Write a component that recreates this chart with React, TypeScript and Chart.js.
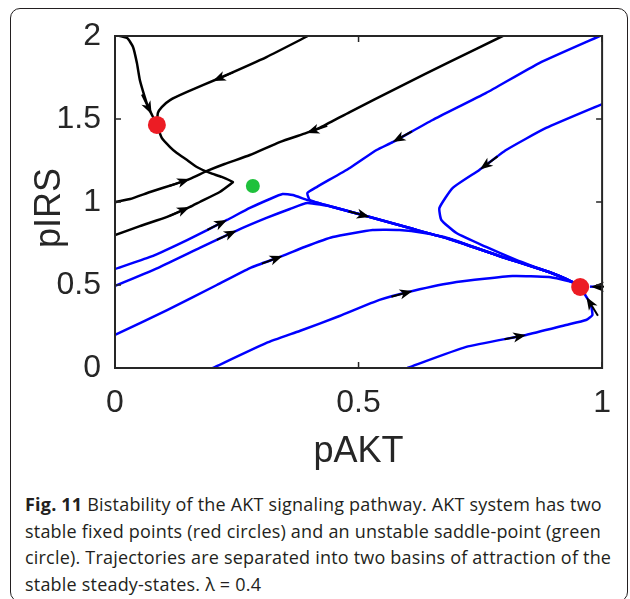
import React, { useEffect, useRef } from 'react';
import { Chart, registerables } from 'chart.js';

Chart.register(...registerables);

type P = [number, number];

// ---- axis ticks ----
const xTicks = [0, 0.5, 1];
const yTicks = [0, 0.5, 1, 1.5, 2];

// ---- fixed points ----
const stablePoints: P[] = [[0.086, 1.464], [0.955, 0.488]];
const saddlePoints: P[] = [[0.283, 1.096]];

// ---- black trajectories (basin of upper stable point) ----
const trajA: P[] = [[0, 2.006], [0.025, 1.988], [0.037, 1.934], [0.045, 1.837], [0.051, 1.735], [0.061, 1.633], [0.068, 1.572], [0.076, 1.524], [0.086, 1.464]];
const trajB: P[] = [[0.4, 2.006], [0.311, 1.873], [0.215, 1.747], [0.148, 1.663], [0.113, 1.614], [0.096, 1.572], [0.088, 1.536], [0.086, 1.464]];
const trajC: P[] = [[0, 1.0], [0.031, 1.018], [0.072, 1.06], [0.123, 1.108], [0.154, 1.139], [0.189, 1.187], [0.225, 1.229], [0.277, 1.283], [0.338, 1.361], [0.393, 1.416], [0.42, 1.446], [0.482, 1.542], [0.584, 1.693], [0.686, 1.843], [0.8, 2.006]];
const trajD: P[] = [[0, 0.8], [0.051, 0.855], [0.107, 0.91], [0.154, 0.97], [0.174, 1.0], [0.215, 1.06], [0.24, 1.114], [0.242, 1.12], [0.219, 1.151], [0.195, 1.175], [0.168, 1.211], [0.148, 1.253], [0.127, 1.295], [0.113, 1.331], [0.096, 1.386], [0.086, 1.464]];

// ---- blue trajectories (basin of lower stable point) ----
const mainBranch: P[] = [[0.447, 0.97], [0.523, 0.91], [0.605, 0.843], [0.686, 0.777], [0.789, 0.675], [0.891, 0.578], [0.939, 0.518], [0.955, 0.488]];
const trajE: P[] = [[0, 0.596], [0.072, 0.669], [0.148, 0.771], [0.23, 0.892], [0.277, 0.964], [0.318, 1.018], [0.344, 1.048], [0.365, 1.042], [0.395, 1.012], ...mainBranch];
const trajF: P[] = [[1, 2.006], [0.871, 1.837], [0.762, 1.657], [0.652, 1.494], [0.57, 1.361], [0.537, 1.313], [0.482, 1.205], [0.414, 1.09], [0.395, 1.054], [0.4, 1.012], ...mainBranch];
const trajG: P[] = [[0, 0.494], [0.092, 0.608], [0.174, 0.723], [0.25, 0.828], [0.311, 0.904], [0.359, 0.958], [0.395, 0.994], ...mainBranch];
const trajH: P[] = [[0, 0.199], [0.107, 0.349], [0.209, 0.5], [0.277, 0.602], [0.344, 0.675], [0.389, 0.729], [0.447, 0.789], [0.529, 0.831], [0.584, 0.831], [0.635, 0.813], [0.686, 0.78], [0.789, 0.675], [0.891, 0.578], [0.939, 0.518], [0.955, 0.488]];
const trajI: P[] = [[1, 1.59], [0.885, 1.446], [0.803, 1.313], [0.748, 1.193], [0.693, 1.084], [0.666, 0.964], [0.67, 0.892], [0.701, 0.813], [0.762, 0.729], [0.82, 0.655], [0.86, 0.61], [0.891, 0.578], [0.939, 0.518], [0.955, 0.488]];
const trajK: P[] = [[0.201, 0], [0.311, 0.151], [0.379, 0.223], [0.461, 0.313], [0.543, 0.41], [0.611, 0.464], [0.701, 0.518], [0.816, 0.554], [0.891, 0.548], [0.939, 0.518], [0.955, 0.488]];
const trajL: P[] = [[0.6, 0], [0.721, 0.127], [0.844, 0.199], [0.926, 0.259], [0.967, 0.289], [0.98, 0.319], [0.977, 0.38], [0.969, 0.422], [0.96, 0.465]];
const trajM: P[] = [[1, 0.49], [0.975, 0.49]];

const blackTrajectories: [string, P[]][] = [['A', trajA], ['B', trajB], ['C', trajC], ['D', trajD]];
const blueTrajectories: [string, P[]][] = [['E', trajE], ['F', trajF], ['G', trajG], ['H', trajH], ['I', trajI], ['K', trajK], ['L', trajL], ['M', trajM]];

// ---- direction arrows: curve, position on curve, +1 = along data order ----
const arrowCurves = ['A', 'B', 'C', 'C', 'D', 'E', 'G', 'H', 'E', 'F', 'I', 'K', 'L', 'L', 'M'];
const arrowAt: P[] = [[0.076, 1.53], [0.2, 1.735], [0.154, 1.139], [0.393, 1.416], [0.154, 0.967], [0.23, 0.892], [0.25, 0.828], [0.344, 0.675], [0.523, 0.91], [0.57, 1.361], [0.748, 1.2], [0.611, 0.464], [0.844, 0.199], [0.969, 0.43], [0.977, 0.49]];
const arrowDir = [1, 1, 1, -1, 1, 1, 1, 1, 1, 1, 1, 1, 1, 1, 1];

const FONT = '"Liberation Sans", Arial, Helvetica, sans-serif';
const AXIS_COLOR = '#262626';
const N_POINT_SETS = 2;

const arrowPlugin = {
  id: 'arrowHeads',
  afterDatasetDraw(chart: any, args: any) {
    if (args.index !== N_POINT_SETS) return;
    const ctx: CanvasRenderingContext2D = chart.ctx;
    const xs = chart.scales.x, ys = chart.scales.y;
    const area = chart.chartArea;
    ctx.save();
    ctx.beginPath();
    ctx.rect(area.left - 2, area.top - 2, area.right - area.left + 4, area.bottom - area.top + 4);
    ctx.clip();
    arrowCurves.forEach((label, k) => {
      const dsIndex = chart.data.datasets.findIndex((d: any) => d.label === label);
      if (dsIndex < 0) return;
      const pts = chart.getDatasetMeta(dsIndex).data;
      const px = xs.getPixelForValue(arrowAt[k][0]);
      const py = ys.getPixelForValue(arrowAt[k][1]);
      let best = { d: Infinity, x: px, y: py, ang: 0 };
      for (let i = 0; i < pts.length - 1; i++) {
        const x1 = pts[i].x, y1 = pts[i].y, x2 = pts[i + 1].x, y2 = pts[i + 1].y;
        const dx = x2 - x1, dy = y2 - y1;
        const l2 = dx * dx + dy * dy;
        if (!l2) continue;
        let t = ((px - x1) * dx + (py - y1) * dy) / l2;
        t = Math.max(0, Math.min(1, t));
        const qx = x1 + t * dx, qy = y1 + t * dy;
        const d = (qx - px) ** 2 + (qy - py) ** 2;
        if (d < best.d) best = { d, x: qx, y: qy, ang: Math.atan2(dy, dx) };
      }
      const ang = arrowDir[k] > 0 ? best.ang : best.ang + Math.PI;
      ctx.save();
      ctx.translate(best.x, best.y);
      ctx.rotate(ang);
      ctx.strokeStyle = '#000';
      ctx.lineWidth = 2;
      ctx.beginPath();
      ctx.moveTo(-22, 0);
      ctx.lineTo(-6, 0);
      ctx.stroke();
      ctx.fillStyle = '#000';
      ctx.beginPath();
      ctx.moveTo(0, 0);
      ctx.lineTo(-13, -5);
      ctx.lineTo(-9.5, 0);
      ctx.lineTo(-13, 5);
      ctx.closePath();
      ctx.fill();
      ctx.restore();
    });
    ctx.restore();
  },
  afterDatasetsDraw(chart: any) {
    const ctx: CanvasRenderingContext2D = chart.ctx;
    const { left, right, top, bottom } = chart.chartArea;
    const xs = chart.scales.x, ys = chart.scales.y;
    ctx.save();
    ctx.strokeStyle = AXIS_COLOR;
    ctx.lineWidth = 2;
    ctx.strokeRect(left, top, right - left, bottom - top);
    ctx.lineWidth = 1.5;
    ctx.beginPath();
    xTicks.forEach((v) => {
      const x = xs.getPixelForValue(v);
      ctx.moveTo(x, bottom); ctx.lineTo(x, bottom - 6);
      ctx.moveTo(x, top); ctx.lineTo(x, top + 6);
    });
    yTicks.forEach((v) => {
      const y = ys.getPixelForValue(v);
      ctx.moveTo(left, y); ctx.lineTo(left + 6, y);
      ctx.moveTo(right, y); ctx.lineTo(right - 6, y);
    });
    ctx.stroke();
    ctx.restore();
  },
};

const toXY = (pts: P[]) => pts.map(([x, y]) => ({ x, y }));

export default function App() {
  const canvasRef = useRef<HTMLCanvasElement | null>(null);

  useEffect(() => {
    const canvas = canvasRef.current;
    if (!canvas) return;
    const lineDs = (label: string, pts: P[], color: string) => ({
      label,
      data: toXY(pts),
      showLine: true,
      borderColor: color,
      backgroundColor: color,
      borderWidth: 2.5,
      pointRadius: 0,
      tension: 0.15,
      fill: false,
    });
    const chart = new Chart(canvas, {
      type: 'scatter',
      data: {
        datasets: [
          { label: 'stable', data: toXY(stablePoints), pointRadius: 9, pointBackgroundColor: '#ec1c24', pointBorderWidth: 0, showLine: false } as any,
          { label: 'saddle', data: toXY(saddlePoints), pointRadius: 7, pointBackgroundColor: '#1fc13c', pointBorderWidth: 0, showLine: false } as any,
          ...blackTrajectories.map(([l, p]) => lineDs(l, p, '#000000')),
          ...blueTrajectories.map(([l, p]) => lineDs(l, p, '#0000ff')),
        ],
      },
      options: {
        responsive: false,
        animation: false,
        events: [],
        layout: { padding: { top: 36, right: 27, left: 0, bottom: 0 } },
        plugins: { legend: { display: false }, tooltip: { enabled: false } },
        scales: {
          x: {
            type: 'linear',
            min: 0,
            max: 1,
            afterBuildTicks: (s: any) => { s.ticks = xTicks.map((value) => ({ value })); },
            afterFit: (s: any) => { s.height = 112; },
            grid: { display: false, drawTicks: false },
            border: { display: false },
            ticks: { font: { family: FONT, size: 32, lineHeight: 1 }, color: AXIS_COLOR, padding: 19, maxRotation: 0, callback: (v: any) => String(v) },
            title: { display: true, text: 'pAKT', font: { family: FONT, size: 36, lineHeight: 1 }, color: AXIS_COLOR, padding: { top: 0, bottom: 10 } },
          },
          y: {
            type: 'linear',
            min: 0,
            max: 2,
            afterBuildTicks: (s: any) => { s.ticks = yTicks.map((value) => ({ value })); },
            afterFit: (s: any) => { s.width = 115; },
            grid: { display: false, drawTicks: false },
            border: { display: false },
            ticks: { font: { family: FONT, size: 32, lineHeight: 1 }, color: AXIS_COLOR, padding: 14, callback: (v: any) => String(v) },
            title: { display: true, text: 'pIRS\u2004', font: { family: FONT, size: 36, lineHeight: 1 }, color: AXIS_COLOR, padding: { top: 32, bottom: 0 } },
          },
        },
      } as any,
      plugins: [arrowPlugin],
    });
    return () => chart.destroy();
  }, []);

  return (
    <div style={{ position: 'fixed', left: 0, top: 0, width: 630, height: 599, background: '#fff', overflow: 'hidden' }}>
      <div style={{ position: 'absolute', left: 10, top: 8, width: 618, height: 594, border: '1.5px solid #231f20', borderRadius: 10, boxSizing: 'border-box' }} />
      <canvas ref={canvasRef} width={630} height={480} style={{ position: 'absolute', left: 0, top: 0, width: 630, height: 480 }} />
      <div style={{ position: 'absolute', left: 25, top: 491, fontFamily: '"Open Sans", sans-serif', fontSize: 18, letterSpacing: '0.2px', lineHeight: '26.5px', color: '#231f20', whiteSpace: 'nowrap' }}>
        <div><b>Fig. 11</b> Bistability of the AKT signaling pathway. AKT system has two</div>
        <div>stable fixed points (red circles) and an unstable saddle-point (green</div>
        <div>circle). Trajectories are separated into two basins of attraction of the</div>
        <div>stable steady-states. λ = 0.4</div>
      </div>
    </div>
  );
}
